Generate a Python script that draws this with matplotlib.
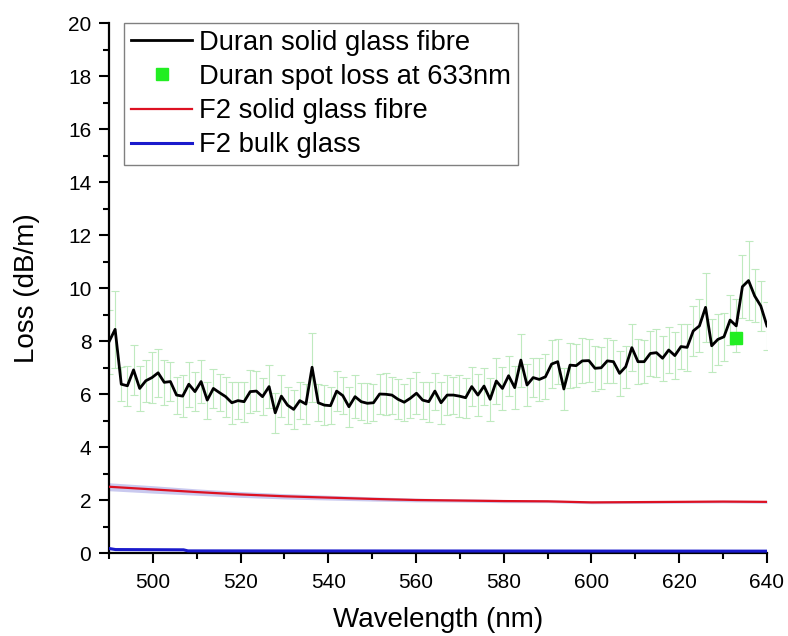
import matplotlib
matplotlib.use("Agg")
import matplotlib.pyplot as plt
from matplotlib.ticker import MultipleLocator

plt.rcParams['font.family'] = ['Liberation Sans', 'DejaVu Sans']

# Duran solid glass fibre
duran_wl = [490.0, 491.4, 492.8, 494.2, 495.6, 497.0, 498.4, 499.8, 501.2, 502.6, 504.0, 505.4,
            506.8, 508.2, 509.6, 511.0, 512.4, 513.8, 515.2, 516.6, 518.0, 519.4, 520.8, 522.2,
            523.6, 525.0, 526.5, 527.9, 529.3, 530.7, 532.1, 533.5, 534.9, 536.3, 537.7, 539.1,
            540.5, 541.9, 543.3, 544.7, 546.1, 547.5, 548.9, 550.3, 551.7, 553.1, 554.5, 555.9,
            557.3, 558.7, 560.1, 561.5, 562.9, 564.3, 565.7, 567.1, 568.5, 569.9, 571.3, 572.7,
            574.1, 575.5, 576.9, 578.3, 579.7, 581.1, 582.5, 583.9, 585.3, 586.7, 588.1, 589.5,
            590.9, 592.3, 593.7, 595.1, 596.5, 597.9, 599.4, 600.8, 602.2, 603.6, 605.0, 606.4,
            607.8, 609.2, 610.6, 612.0, 613.4, 614.8, 616.2, 617.6, 619.0, 620.4, 621.8, 623.2,
            624.6, 626.0, 627.4, 628.8, 630.2, 631.6, 633.0, 634.4, 635.8, 637.2, 638.6, 640.0]
duran_loss = [7.97, 8.44, 6.37, 6.31, 6.91, 6.21, 6.50, 6.62, 6.80, 6.44, 6.47, 5.96,
              5.92, 6.37, 6.09, 6.47, 5.77, 6.21, 6.05, 5.90, 5.67, 5.75, 5.71, 6.09,
              6.11, 5.90, 6.28, 5.29, 5.92, 5.58, 5.42, 5.75, 5.62, 7.01, 5.67, 5.58,
              5.56, 6.11, 5.94, 5.52, 5.90, 5.71, 5.65, 5.67, 6.00, 5.99, 5.96, 5.80,
              5.69, 5.84, 6.03, 5.77, 5.71, 6.11, 5.67, 5.96, 5.96, 5.92, 5.86, 6.28,
              5.96, 6.30, 5.80, 6.49, 6.21, 6.69, 6.24, 7.28, 6.34, 6.62, 6.55, 6.65,
              7.13, 7.22, 6.19, 7.09, 7.07, 7.25, 7.26, 6.97, 6.99, 7.25, 7.22, 6.78,
              7.03, 7.75, 7.22, 7.22, 7.53, 7.56, 7.35, 7.66, 7.45, 7.79, 7.76, 8.38,
              8.57, 9.27, 7.82, 8.06, 8.16, 8.79, 8.57, 10.05, 10.28, 9.70, 9.32, 8.57]
duran_err = [1.20, 1.45, 0.65, 0.75, 0.95, 0.85, 0.80, 0.95, 0.90, 0.85, 0.75, 0.70,
             0.80, 0.85, 0.75, 0.80, 0.70, 0.75, 0.70, 0.75, 0.80, 0.70, 0.75, 0.80,
             0.75, 0.70, 0.80, 0.75, 0.80, 0.70, 0.75, 0.70, 0.75, 1.30, 0.70, 0.75,
             0.70, 0.75, 0.70, 0.75, 0.80, 0.70, 0.75, 0.70, 0.75, 0.80, 0.70, 0.75,
             0.70, 0.75, 0.80, 0.70, 0.75, 0.70, 0.80, 0.75, 0.70, 0.80, 0.75, 0.75,
             0.80, 0.70, 0.80, 0.85, 0.80, 0.75, 0.80, 1.00, 0.80, 0.75, 0.80, 0.85,
             0.90, 0.85, 0.80, 0.85, 0.80, 0.85, 0.80, 0.85, 0.80, 0.85, 0.80, 0.85,
             0.80, 0.90, 0.85, 0.80, 0.85, 0.90, 0.85, 0.85, 0.90, 0.85, 0.90, 0.95,
             1.00, 1.30, 1.00, 0.95, 0.90, 0.95, 1.00, 1.20, 1.50, 1.00, 0.95, 0.90]

# Duran spot loss
spot_wl = [633.0]
spot_loss = [8.12]

# F2 solid glass fibre
f2_wl = [490, 500, 510, 520, 530, 540, 550, 560, 570, 580, 590, 600, 610, 620, 630, 640]
f2_loss = [2.50, 2.40, 2.30, 2.21, 2.14, 2.09, 2.04, 2.00, 1.98, 1.96, 1.95, 1.91, 1.92, 1.93, 1.94, 1.93]
f2_err = [0.15, 0.14, 0.12, 0.11, 0.10, 0.09, 0.08, 0.07, 0.06, 0.06, 0.05, 0.05, 0.05, 0.05, 0.05, 0.05]

# F2 bulk glass
bulk_wl = [490, 491.5, 507, 508, 640]
bulk_loss = [0.17, 0.13, 0.12, 0.08, 0.07]

fig = plt.figure(figsize=(7.88, 6.36), dpi=100)
ax = fig.add_axes([0.1383, 0.1305, 0.835, 0.8333])

ax.errorbar(duran_wl, duran_loss, yerr=duran_err, fmt='none', ecolor='#bfeabf',
            elinewidth=0.8, capsize=3, capthick=0.8, zorder=1)
ax.plot(duran_wl, duran_loss, color='black', lw=2.0, label='Duran solid glass fibre', zorder=4)
ax.plot(spot_wl, spot_loss, 's', color='#22ee22', ms=8, ls='none',
        label='Duran spot loss at 633nm', zorder=5)
lo = [v - e for v, e in zip(f2_loss, f2_err)]
hi = [v + e for v, e in zip(f2_loss, f2_err)]
ax.fill_between(f2_wl, lo, hi, color='#c9c9ef', lw=0, zorder=2)
ax.plot(f2_wl, f2_loss, color='#dd1122', lw=1.6, label='F2 solid glass fibre', zorder=3)
ax.plot(bulk_wl, bulk_loss, color='#1a1acc', lw=2.2, label='F2 bulk glass', zorder=3)

ax.set_xlim(490, 640)
ax.set_ylim(0, 20)
ax.xaxis.set_major_locator(MultipleLocator(20))
ax.xaxis.set_minor_locator(MultipleLocator(10))
ax.yaxis.set_major_locator(MultipleLocator(2))
ax.yaxis.set_minor_locator(MultipleLocator(1))
ax.set_xticks([500, 520, 540, 560, 580, 600, 620, 640])

for s in ['top', 'right']:
    ax.spines[s].set_visible(False)
for s in ['left', 'bottom']:
    ax.spines[s].set_linewidth(1.6)
ax.tick_params(which='major', direction='out', length=7.2, width=1.5, labelsize=15)
ax.tick_params(which='minor', direction='out', length=4, width=1.5)
ax.tick_params(axis='x', which='major', pad=7)
ax.tick_params(axis='y', which='major', pad=5.5)

ax.set_xlabel('Wavelength (nm)', fontsize=20, labelpad=11)
ax.set_ylabel('Loss (dB/m)', fontsize=20, labelpad=20)

leg = ax.legend(loc='upper left', bbox_to_anchor=(0.0228, 1.0), borderaxespad=0,
                fontsize=19.7, frameon=True, fancybox=False, edgecolor='#808080',
                handlelength=2.25, handletextpad=0.25, labelspacing=0.3,
                borderpad=0.25, framealpha=1)
leg.get_frame().set_linewidth(1.0)

fig.savefig('out.png', dpi=100)
